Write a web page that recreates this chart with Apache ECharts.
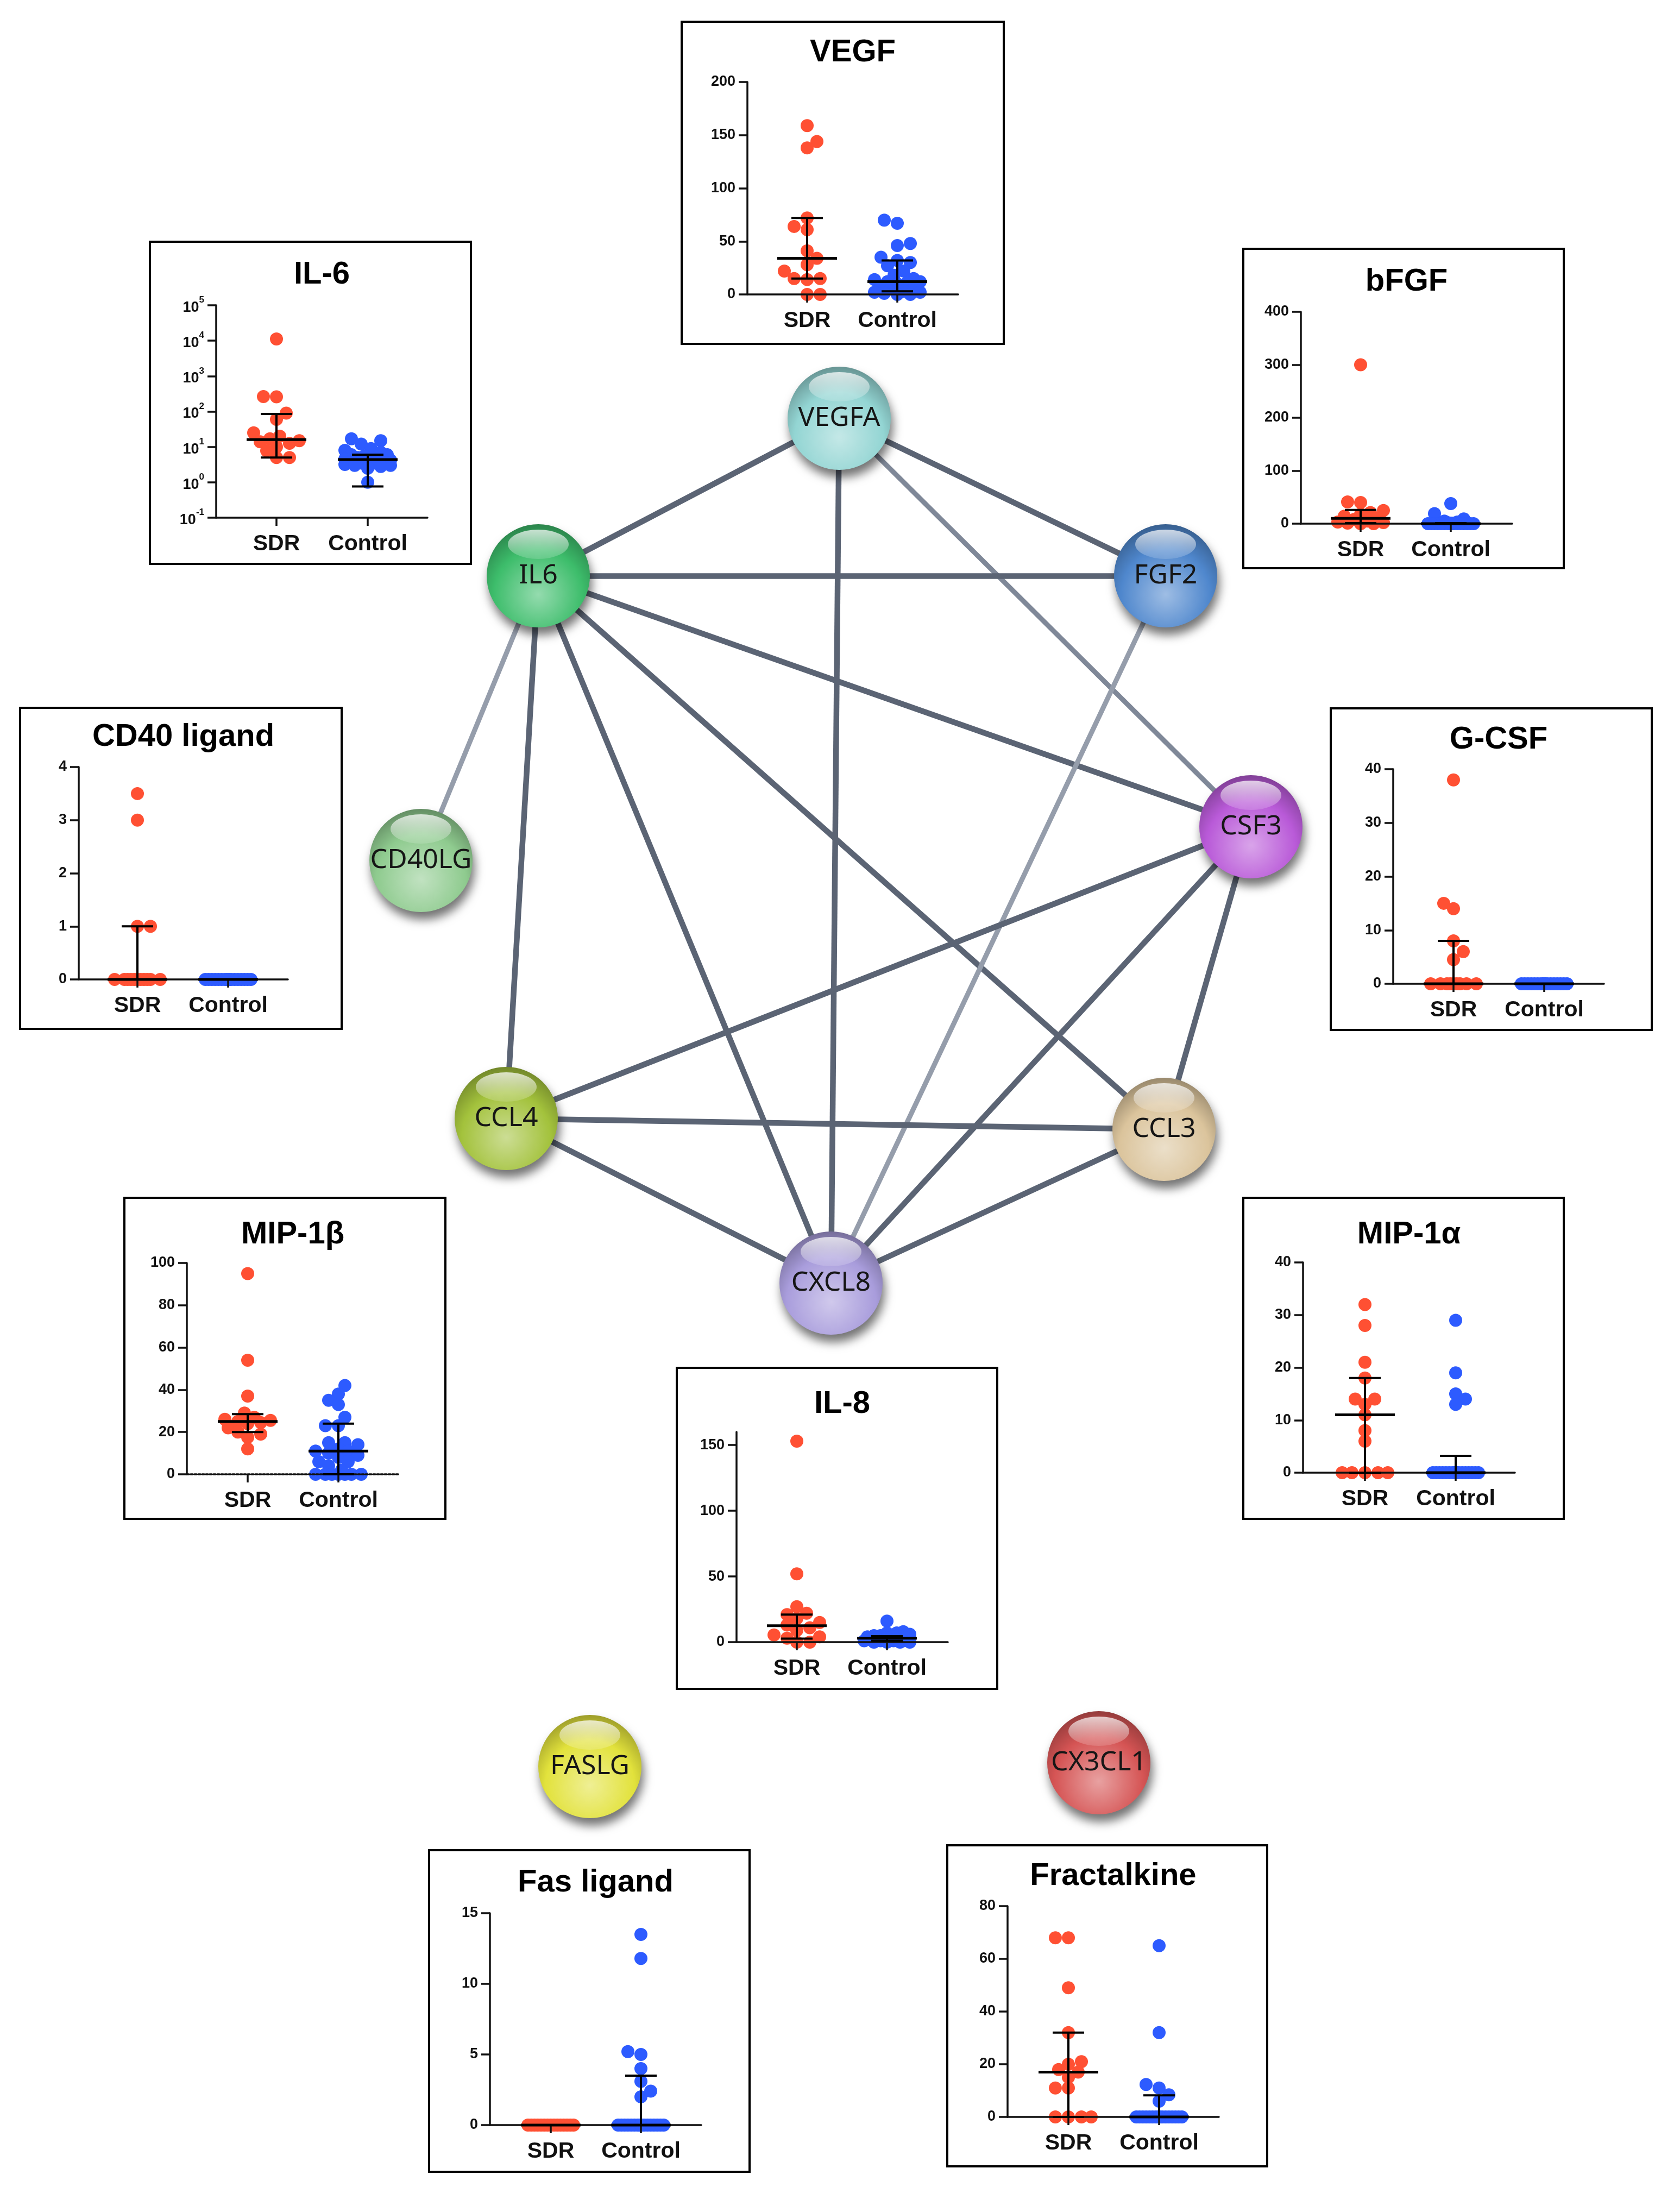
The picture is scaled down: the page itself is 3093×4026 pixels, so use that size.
<!DOCTYPE html>
<html><head><meta charset="utf-8">
<script src="https://cdn.jsdelivr.net/npm/echarts@6/dist/echarts.min.js"></script>
<style>html,body{margin:0;padding:0;background:#fff}#c{width:3093px;height:4026px}</style>
</head><body><div id="c"></div>
<script>
// ---------------- DATA ----------------
const categories = ['SDR', 'Control'];
const nodeNames = ['VEGFA','IL6','FGF2','CSF3','CD40LG','CCL4','CCL3','CXCL8','FASLG','CX3CL1'];
const edgeSource = ['VEGFA','VEGFA','VEGFA','VEGFA','IL6','IL6','IL6','IL6','IL6','IL6','FGF2','CSF3','CSF3','CSF3','CCL4','CCL4','CCL3'];
const edgeTarget = ['IL6','FGF2','CSF3','CXCL8','FGF2','CSF3','CCL3','CXCL8','CCL4','CD40LG','CXCL8','CCL4','CCL3','CXCL8','CCL3','CXCL8','CXCL8'];
const edgeScore  = [0.95,0.95,0.70,0.90,0.90,0.90,0.90,0.95,0.95,0.60,0.60,0.90,0.90,0.95,0.90,0.90,0.90];

const panelTitles = ['VEGF','IL-6','bFGF','CD40 ligand','G-CSF','MIP-1β','MIP-1α','IL-8','Fas ligand','Fractalkine'];

const vegfSDR = [159,144,138,72,64,61,41,34,28,22,15,15,14,0,0];
const vegfControl = [70,67,48,46,35,32,30,27,22,18,15,14,12,12,11,10,8,6,5,3,2,2,1,0,0];
const vegfSDRStats = [34,15,72];          // median, low, high
const vegfControlStats = [12,3,32];
const vegfTicks = [0,50,100,150,200];

const il6SDR = [11200,265,260,90,60,25,20,17,15,14,12.6,10,7.8,5,5];
const il6Control = [17,15,12,9,8,7,6,6,5.5,5,5,4.5,4.5,4.2,4,4,3.8,3.5,3.5,3.2,3,3,2.8,2.5,1.0];
const il6SDRStats = [16,5,85];
const il6ControlStats = [4.4,0.76,6];
const il6Ticks = [0.1,1,10,100,1000,10000,100000];

const bfgfSDR = [300,41,40,25,21,18,14,10,8,5,3,2,1,0,0];
const bfgfControl = [38,19,9,5,3,2,1,1,0,0,0,0,0,0,0,0,0,0,0,0,0,0,0,0,0];
const bfgfSDRStats = [10,1,26];
const bfgfControlStats = [0,0,1];
const bfgfTicks = [0,100,200,300,400];

const cd40SDR = [3.5,3.0,1,1,0,0,0,0,0,0,0,0,0,0,0];
const cd40Control = [0,0,0,0,0,0,0,0,0,0,0,0,0,0,0,0,0,0,0,0,0,0,0,0,0];
const cd40SDRStats = [0,0,1];
const cd40ControlStats = [0,0,0];
const cd40Ticks = [0,1,2,3,4];

const gcsfSDR = [38,15,14,8,6,4.5,0,0,0,0,0,0,0,0,0];
const gcsfControl = [0,0,0,0,0,0,0,0,0,0,0,0,0,0,0,0,0,0,0,0,0,0,0,0,0];
const gcsfSDRStats = [0,0,8];
const gcsfControlStats = [0,0,0];
const gcsfTicks = [0,10,20,30,40];

const mip1bSDR = [95,54,37,29,27,26,25.5,25,24.5,24,22,20,19,17.5,12];
const mip1bControl = [42,38,35,33,27,23,23,15,15,14,12,11,11,10,9,8,6,6,4,2,0,0,0,0,0,0,0];
const mip1bSDRStats = [25,20,28.5];
const mip1bControlStats = [11,0,24];
const mip1bTicks = [0,20,40,60,80,100];

const mip1aSDR = [32,28,21,18,14,14,13,11,8,6,0,0,0,0,0];
const mip1aControl = [29,19,15,14,13,0,0,0,0,0,0,0,0,0,0,0,0,0,0,0,0,0,0,0,0,0,0];
const mip1aSDRStats = [11,0,18];
const mip1aControlStats = [0,0,3.2];
const mip1aTicks = [0,10,20,30,40];

const il8SDR = [153,52,27,22,21,18,15,13,11,9,5.5,4,3,0,0];
const il8Control = [16,8,7,7,6,5,5,4,4,4,3,3,3,2,2,2,2,1,1,1,1,0,0,0,0];
const il8SDRStats = [12.5,2.7,21];
const il8ControlStats = [3,1,4.5];
const il8Ticks = [0,50,100,150];

const fasSDR = [0,0,0,0,0,0,0,0,0,0,0,0,0,0,0];
const fasControl = [13.5,11.8,5.2,5.0,4.0,3.1,2.4,2.0,0,0,0,0,0,0,0,0,0,0,0,0,0,0,0,0,0,0,0];
const fasSDRStats = [0,0,0];
const fasControlStats = [0,0,3.5];
const fasTicks = [0,5,10,15];

const fraktSDR = [68,68,49,32,21,20,18,17,15,11,11,0,0,0,0];
const fraktControl = [65,32,12.3,11,8.4,6,0,0,0,0,0,0,0,0,0,0,0,0,0,0,0,0,0,0,0,0];
const fraktSDRStats = [17,0,32];
const fraktControlStats = [0,0,8.2];
const fraktTicks = [0,20,40,60,80];

const axisMax = [200,100000,400,4,40,100,40,160,15,80];

// ---------------- LAYOUT / STYLE ----------------
const nodeLayout = {
  VEGFA:[1545,770], IL6:[991,1060], FGF2:[2146,1060], CSF3:[2303,1522], CD40LG:[775,1584],
  CCL4:[932,2059], CCL3:[2143,2079], CXCL8:[1530,2362], FASLG:[1086,3252], CX3CL1:[2023,3245]
};
const nodeColor = {
  VEGFA:'#93d5d3', IL6:'#3dbd6b', FGF2:'#4f87cd', CSF3:'#b95ad8', CD40LG:'#8fcb8f',
  CCL4:'#a3c23c', CCL3:'#dbc49c', CXCL8:'#a99ddc', FASLG:'#e2e23c', CX3CL1:'#d55454'
};
const panelLayout = [
 {box:[1255,40,593,593], axisX:1376, topY:151, zeroY:542, sdrX:1486, ctrlX:1652, rightX:1764, titleBase:114},
 {box:[276,445,591,593], axisX:398, topY:562, zeroY:953, sdrX:509, ctrlX:677, rightX:787, titleBase:523, log:true},
 {box:[2289,458,590,588], axisX:2395, topY:574, zeroY:964, sdrX:2505, ctrlX:2671, rightX:2784, titleBase:536},
 {box:[37,1303,592,591], axisX:145, topY:1412, zeroY:1803, sdrX:253, ctrlX:420, rightX:530, titleBase:1374},
 {box:[2450,1304,591,592], axisX:2565, topY:1416, zeroY:1811, sdrX:2676, ctrlX:2843, rightX:2953, titleBase:1379},
 {box:[229,2205,591,591], axisX:344, topY:2325, zeroY:2714, sdrX:456, ctrlX:623, rightX:734, titleBase:2290, dotted:true},
 {box:[2289,2205,590,591], axisX:2399, topY:2324, zeroY:2711, sdrX:2513, ctrlX:2680, rightX:2789, titleBase:2290},
 {box:[1246,2518,590,591], axisX:1356, topY:2636, zeroY:3023, sdrX:1467, ctrlX:1633, rightX:1745, titleBase:2602},
 {box:[790,3406,590,592], axisX:902, topY:3522, zeroY:3912, sdrX:1014, ctrlX:1180, rightX:1291, titleBase:3483},
 {box:[1744,3397,589,591], axisX:1855, topY:3509, zeroY:3897, sdrX:1967, ctrlX:2134, rightX:2244, titleBase:3471}
];
const panelData = [
 [vegfSDR, vegfControl, vegfSDRStats, vegfControlStats, vegfTicks],
 [il6SDR, il6Control, il6SDRStats, il6ControlStats, il6Ticks],
 [bfgfSDR, bfgfControl, bfgfSDRStats, bfgfControlStats, bfgfTicks],
 [cd40SDR, cd40Control, cd40SDRStats, cd40ControlStats, cd40Ticks],
 [gcsfSDR, gcsfControl, gcsfSDRStats, gcsfControlStats, gcsfTicks],
 [mip1bSDR, mip1bControl, mip1bSDRStats, mip1bControlStats, mip1bTicks],
 [mip1aSDR, mip1aControl, mip1aSDRStats, mip1aControlStats, mip1aTicks],
 [il8SDR, il8Control, il8SDRStats, il8ControlStats, il8Ticks],
 [fasSDR, fasControl, fasSDRStats, fasControlStats, fasTicks],
 [fraktSDR, fraktControl, fraktSDRStats, fraktControlStats, fraktTicks]
];
const RED = '#FF5033', BLUE = '#2D5BFF', INK = '#111';
const PF = '"Liberation Sans", Arial, Helvetica, sans-serif';
const DOT = 24, MAXOFF = 43;

function mix(hex, target, t) {
  const a = parseInt(hex.slice(1), 16), b = parseInt(target.slice(1), 16);
  const ch = (v, s) => (v >> s) & 255;
  const r = Math.round(ch(a,16) + (ch(b,16) - ch(a,16)) * t);
  const g = Math.round(ch(a,8) + (ch(b,8) - ch(a,8)) * t);
  const bl = Math.round(ch(a,0) + (ch(b,0) - ch(a,0)) * t);
  return 'rgb(' + r + ',' + g + ',' + bl + ')';
}

// deterministic beeswarm layout (horizontal offsets in px)
function swarmOffsets(values, toPx, diam, maxOff) {
  const order = values.map((v, i) => i).sort((a, b) => values[a] - values[b] || a - b);
  const placed = [], off = new Array(values.length).fill(0);
  const step = diam / 4, nSteps = Math.floor(maxOff / step);
  const need = diam * 0.8;
  let sign = 1;
  order.forEach(i => {
    const y = toPx(values[i]);
    const cands = [0];
    for (let k = 1; k <= nSteps; k++) cands.push(sign * k * step, -sign * k * step);
    let chosen = null, bestC = 0, bestD = -1;
    for (const c of cands) {
      let md = Infinity;
      for (const p of placed) { const dx = p[0] - c, dy = p[1] - y; const d = Math.sqrt(dx*dx + dy*dy); if (d < md) md = d; }
      if (md >= need) { chosen = c; break; }
      if (md > bestD + 0.01) { bestD = md; bestC = c; }
    }
    if (chosen === null) chosen = bestC;
    if (chosen !== 0) sign = chosen > 0 ? -1 : 1;
    placed.push([chosen, y]); off[i] = chosen;
  });
  return off;
}

// ---------------- BUILD OPTION ----------------
const grids = [{left:0, top:0, width:3093, height:4026}];
const xAxes = [{type:'value', gridIndex:0, min:0, max:3093, show:false}];
const yAxes = [{type:'value', gridIndex:0, min:0, max:4026, inverse:true, show:false}];
const series = [];
const graphics = [];

// network
const gNodes = nodeNames.map(n => {
  const c = nodeColor[n];
  return {
    name: n, value: nodeLayout[n],
    itemStyle: {
      color: {type:'radial', x:0.5, y:0.68, r:0.72, colorStops:[
        {offset:0, color: mix(c, '#ffffff', 0.45)},
        {offset:0.6, color: c},
        {offset:1, color: mix(c, '#000000', 0.35)}]},
      shadowBlur: 18, shadowOffsetX: 4, shadowOffsetY: 14, shadowColor: 'rgba(0,0,0,0.55)'
    }
  };
});
const gLinks = edgeSource.map((s, i) => ({
  source: s, target: edgeTarget[i],
  lineStyle: {color: edgeScore[i] >= 0.85 ? '#5b6474' : (edgeScore[i] >= 0.65 ? '#7f8898' : '#959dab'),
              width: edgeScore[i] >= 0.85 ? 10.5 : 9, opacity: 1, curveness: 0}
}));
series.push({
  type:'graph', coordinateSystem:'cartesian2d', xAxisIndex:0, yAxisIndex:0, layout:'none',
  symbol:'circle', symbolSize:190, data:gNodes, links:gLinks, silent:true, z:2,
  label:{show:true, position:'inside', formatter:'{b}', fontSize:50, fontFamily:'"Noto Sans", "Open Sans", sans-serif', color:'#161616'},
  emphasis:{disabled:true}
});
series.push({
  type:'scatter', xAxisIndex:0, yAxisIndex:0, silent:true, z:3,
  symbol:'circle', symbolSize:[112,54], symbolOffset:[0,-58],
  itemStyle:{color:{type:'linear', x:0, y:0, x2:0, y2:1, colorStops:[
    {offset:0, color:'rgba(255,255,255,0.92)'}, {offset:1, color:'rgba(255,255,255,0.18)'}]}},
  data: nodeNames.map(n => nodeLayout[n])
});

// panels
panelLayout.forEach((L, p) => {
  const [sdr, ctrl, sdrStats, ctrlStats, ticks] = panelData[p];
  const g = p + 1;
  const h = L.zeroY - L.topY;
  const yMin = ticks[0], yMax = axisMax[p];
  const toPx = L.log
    ? (v => (Math.log10(v) - Math.log10(yMin)) / (Math.log10(yMax) - Math.log10(yMin)) * h)
    : (v => (v - yMin) / (yMax - yMin) * h);
  const ppu = L.ctrlX - L.sdrX;
  const xMin = -(L.sdrX - L.axisX) / ppu, xMax = 1 + (L.rightX - L.ctrlX) / ppu;

  grids.push({left:L.axisX, top:L.topY, width:L.rightX - L.axisX, height:h});
  xAxes.push({
    type:'value', gridIndex:g, min:xMin, max:xMax, z:3,
    axisLine:{show:true, onZero:false, lineStyle:{color:INK, width:3.5, type: L.dotted ? [4,3] : 'solid'}},
    axisTick:{show:true, customValues:[0,1], length:15, lineStyle:{color:INK, width:3.5}},
    axisLabel:{show:true, customValues:[0,1], margin:28, fontSize:41, fontWeight:'bold', color:INK, fontFamily:PF,
               formatter: v => categories[Math.round(v)]},
    splitLine:{show:false}
  });
  const yAx = {
    type: L.log ? 'log' : 'value', gridIndex:g, min:yMin, max:yMax, z:3,
    axisLine:{show:true, onZero:false, lineStyle:{color:INK, width:3.5}},
    axisTick:{show:true, customValues:ticks, length:16, lineStyle:{color:INK, width:3.5}},
    axisLabel:{show:true, customValues:ticks, margin:22, fontSize:27, fontWeight:'bold', color:INK, fontFamily:PF},
    splitLine:{show:false}, minorTick:{show:false}
  };
  if (L.log) {
    yAx.logBase = 10;
    yAx.axisLabel.formatter = v => '{b|10}{s|' + Math.round(Math.log10(v)) + '}';
    yAx.axisLabel.rich = {
      b:{fontSize:27, fontWeight:'bold', color:INK, fontFamily:PF, lineHeight:36, verticalAlign:'bottom'},
      s:{fontSize:17, fontWeight:'bold', color:INK, fontFamily:PF, lineHeight:18, verticalAlign:'top'}
    };
  } else {
    yAx.interval = ticks[1] - ticks[0];
    yAx.axisLabel.formatter = v => (ticks.indexOf(v) >= 0 ? String(v) : '');
  }
  yAxes.push(yAx);

  [[sdr, RED, 0], [ctrl, BLUE, 1]].forEach(([vals, col, cat]) => {
    const offs = swarmOffsets(vals, toPx, DOT, MAXOFF);
    series.push({
      type:'scatter', xAxisIndex:g, yAxisIndex:g, symbol:'circle', symbolSize:DOT, silent:true, z:2,
      itemStyle:{color:col, opacity:1},
      data: vals.map((v, i) => [cat + offs[i] / ppu, v])
    });
  });

  series.push({
    type:'custom', xAxisIndex:g, yAxisIndex:g, z:5, silent:true,
    dimensions:['cat','med','lo','hi'], encode:{x:0, y:[1,2,3]},
    data:[[0, sdrStats[0], sdrStats[1], sdrStats[2]], [1, ctrlStats[0], ctrlStats[1], ctrlStats[2]]],
    renderItem: (params, api) => {
      const cat = api.value(0);
      const m = api.coord([cat, api.value(1)]);
      const lo = api.coord([cat, api.value(2)]);
      const hi = api.coord([cat, api.value(3)]);
      const st = {stroke:'#000', lineWidth:4};
      return {type:'group', children:[
        {type:'line', shape:{x1:lo[0], y1:lo[1], x2:hi[0], y2:hi[1]}, style:st},
        {type:'line', shape:{x1:hi[0]-29, y1:hi[1], x2:hi[0]+29, y2:hi[1]}, style:st},
        {type:'line', shape:{x1:lo[0]-29, y1:lo[1], x2:lo[0]+29, y2:lo[1]}, style:st},
        {type:'line', shape:{x1:m[0]-55, y1:m[1], x2:m[0]+55, y2:m[1]}, style:{stroke:'#000', lineWidth:5}}
      ]};
    }
  });

  graphics.push({type:'rect', silent:true, z:1,
    shape:{x:L.box[0], y:L.box[1], width:L.box[2], height:L.box[3]},
    style:{fill:'none', stroke:'#000', lineWidth:4}});
  graphics.push({type:'text', silent:true, z:1,
    x:(L.axisX + L.rightX) / 2, y:L.titleBase - 17,
    style:{text:panelTitles[p], fill:'#000', font:'bold 58px ' + PF,
           align:'center', verticalAlign:'middle', textAlign:'center', textVerticalAlign:'middle'}});
});

const chart = echarts.init(document.getElementById('c'), null, {renderer:'canvas', width:3093, height:4026});
chart.setOption({
  animation:false, backgroundColor:'#ffffff',
  grid:grids, xAxis:xAxes, yAxis:yAxes, series:series,
  graphic:{elements:graphics}
});
</script></body></html>
